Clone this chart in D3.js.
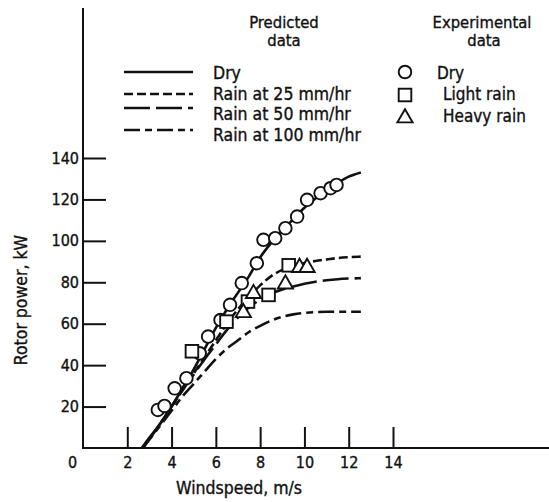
<!DOCTYPE html>
<html>
<head>
<meta charset="utf-8">
<script src="https://cdn.jsdelivr.net/npm/d3@7"></script>
<style>
    body { margin: 0; background: #fff; }
    svg { display: block; }
    text { font-family: "DejaVu Sans Condensed", "DejaVu Sans", sans-serif; fill: #111; stroke: #111; stroke-width: 0.35; }
</style>
</head>
<body>
<div id="chart"></div>
<script>
// Tick labels
const xTicks = [0, 2, 4, 6, 8, 10, 12, 14];
const yTicks = [20, 40, 60, 80, 100, 120, 140];

// Predicted curves: [windspeed m/s, rotor power kW]
const predDry = [[2.65, 0], [3, 5], [3.5, 12], [4, 20], [4.5, 29], [5, 38], [5.5, 48], [6, 58], [6.5, 67], [7, 75],
    [7.5, 83], [8, 92], [8.5, 99], [9, 105], [9.5, 110.5], [10, 116], [10.5, 120.5], [11, 124.5], [11.5, 128], [12, 131], [12.55, 133]];
const predRain25 = [[2.7, 0], [3.5, 12], [4, 20], [4.5, 28], [5, 36], [5.5, 44], [6, 52], [6.5, 60], [7, 67], [7.5, 73],
    [8, 78.5], [8.5, 83], [9, 86], [9.5, 88], [10, 89.3], [10.5, 90.3], [11, 91], [11.5, 91.7], [12, 92.1], [12.55, 92.4]];
const predRain50 = [[2.7, 0], [3.5, 12], [4, 20], [4.5, 28], [5, 35.5], [5.5, 43], [6, 50], [6.5, 57], [7, 63], [7.5, 68],
    [8, 71.5], [8.5, 74.5], [9, 76.5], [9.5, 78], [10, 79.3], [10.5, 80.3], [11, 81], [11.5, 81.5], [12, 81.8], [12.55, 82]];
const predRain100 = [[2.7, 0], [3.5, 11], [4, 18], [4.5, 25], [5, 31], [5.5, 37], [6, 43], [6.5, 48], [7, 52], [7.5, 56],
    [8, 59], [8.5, 61.5], [9, 63.3], [9.5, 64.5], [10, 65.2], [10.5, 65.6], [11, 65.8], [11.5, 65.8], [12, 65.8], [12.55, 65.8]];

// Experimental points
const expDry = [[3.38, 18.4], [3.68, 20.3], [4.14, 28.8], [4.67, 33.7], [5.27, 45.7], [5.65, 53.8], [6.21, 61.8], [6.64, 69.1],
    [7.17, 79.6], [7.85, 89.2], [8.15, 100.5], [8.68, 101.3], [9.14, 106.1], [9.67, 111.7], [10.12, 119.8], [10.73, 123],
    [11.18, 125.4], [11.45, 127]];
const expLight = [[4.92, 46.7], [6.48, 61], [7.45, 70.7], [8.38, 73.9], [9.29, 88.2]];
const expHeavy = [[7.24, 65.8], [7.7, 75], [9.14, 79.6], [9.78, 87.6], [10.12, 87.6]];

const predNames = ["Dry", "Rain at 25 mm/hr", "Rain at 50 mm/hr", "Rain at 100 mm/hr"];
const expNames = ["Dry", "Light rain", "Heavy rain"];

const width = 549, height = 502;
const svg = d3.select("#chart").append("svg")
    .attr("width", width)
    .attr("height", height);

const x = d3.scaleLinear().domain([0, 14]).range([83, 393]);
const y = d3.scaleLinear().domain([0, 140]).range([448, 158]);

// Axes
const xAxis = svg.append("g")
    .attr("transform", "translate(0,448)")
    .call(d3.axisBottom(x).tickValues(xTicks).tickSize(-21).tickSizeOuter(0).tickPadding(9).tickFormat(d3.format("d")));
xAxis.select(".domain").remove();
xAxis.selectAll(".tick line").attr("stroke", "#111").attr("stroke-width", 2).filter(d => d === 0).remove();
xAxis.selectAll(".tick text").style("font-size", "16px").attr("fill", "#111")
    .attr("dx", d => d === 0 ? -11 : 0);

const yAxis = svg.append("g")
    .attr("transform", "translate(83,0)")
    .call(d3.axisLeft(y).tickValues(yTicks).tickSize(-23).tickSizeOuter(0).tickPadding(4));
yAxis.select(".domain").remove();
yAxis.selectAll(".tick line").attr("stroke", "#111").attr("stroke-width", 2);
yAxis.selectAll(".tick text").style("font-size", "16px").attr("fill", "#111");

svg.append("line").attr("x1", 83).attr("x2", 83).attr("y1", 8).attr("y2", 449)
    .attr("stroke", "#111").attr("stroke-width", 2);
svg.append("line").attr("x1", 82).attr("x2", width).attr("y1", 448).attr("y2", 448)
    .attr("stroke", "#111").attr("stroke-width", 2);

svg.append("text").attr("x", 239).attr("y", 494).attr("text-anchor", "middle")
    .style("font-size", "17.5px").text("Windspeed, m/s");
svg.append("text").attr("transform", "translate(27,300) rotate(-90)").attr("text-anchor", "middle")
    .style("font-size", "17.5px").text("Rotor power, kW");

// Predicted curves
const dashes = ["none", "9,4", "26,6", "16,5,7,5"];
const line = d3.line().x(d => x(d[0])).y(d => y(d[1])).curve(d3.curveMonotoneX);
[predDry, predRain25, predRain50, predRain100].forEach((s, i) => {
    svg.append("path").datum(s)
        .attr("d", line)
        .attr("fill", "none")
        .attr("stroke", "#111")
        .attr("stroke-width", 2.6)
        .attr("stroke-dasharray", dashes[i]);
});

// Experimental markers
const markerR = 6.3;
const triangle = d3.symbol().type(d3.symbolTriangle).size(100);
function drawMarker(g, kind) {
    if (kind === 0) {
        g.append("circle").attr("r", markerR);
    } else if (kind === 1) {
        g.append("rect").attr("x", -markerR).attr("y", -markerR).attr("width", markerR * 2).attr("height", markerR * 2);
    } else {
        g.append("path").attr("d", triangle).attr("transform", "translate(0,1)");
    }
    g.selectAll("circle,rect,path").attr("fill", "#fff").attr("stroke", "#111").attr("stroke-width", 1.9);
}
[expDry, expLight, expHeavy].forEach((s, i) => {
    svg.append("g").selectAll("g")
        .data(s)
        .enter().append("g")
        .attr("transform", d => `translate(${x(d[0])},${y(d[1])})`)
        .each(function () { drawMarker(d3.select(this), i); });
});

// Legend: predicted
svg.append("text").attr("x", 284).attr("y", 28).attr("text-anchor", "middle").style("font-size", "16.5px").text("Predicted");
svg.append("text").attr("x", 284).attr("y", 46).attr("text-anchor", "middle").style("font-size", "16.5px").text("data");
const legLineY = [72, 94, 108, 130];
const legTextY = [79, 100, 120, 141];
predNames.forEach((name, i) => {
    svg.append("line").attr("x1", 124).attr("x2", 193).attr("y1", legLineY[i]).attr("y2", legLineY[i])
        .attr("stroke", "#111").attr("stroke-width", 2.6).attr("stroke-dasharray", dashes[i]);
    svg.append("text").attr("x", 213).attr("y", legTextY[i]).style("font-size", "17.5px").text(name);
});

// Legend: experimental
svg.append("text").attr("x", 482).attr("y", 28).attr("text-anchor", "middle").style("font-size", "16.5px").text("Experimental");
svg.append("text").attr("x", 484).attr("y", 46).attr("text-anchor", "middle").style("font-size", "16.5px").text("data");
const legMarkY = [72, 95, 117];
const legExpTextY = [79, 100, 122];
expNames.forEach((name, i) => {
    const g = svg.append("g").attr("transform", `translate(405,${legMarkY[i]})`);
    drawMarker(g, i);
    svg.append("text").attr("x", i === 0 ? 437 : 443).attr("y", legExpTextY[i]).style("font-size", "17px").text(name);
});
</script>
</body>
</html>
